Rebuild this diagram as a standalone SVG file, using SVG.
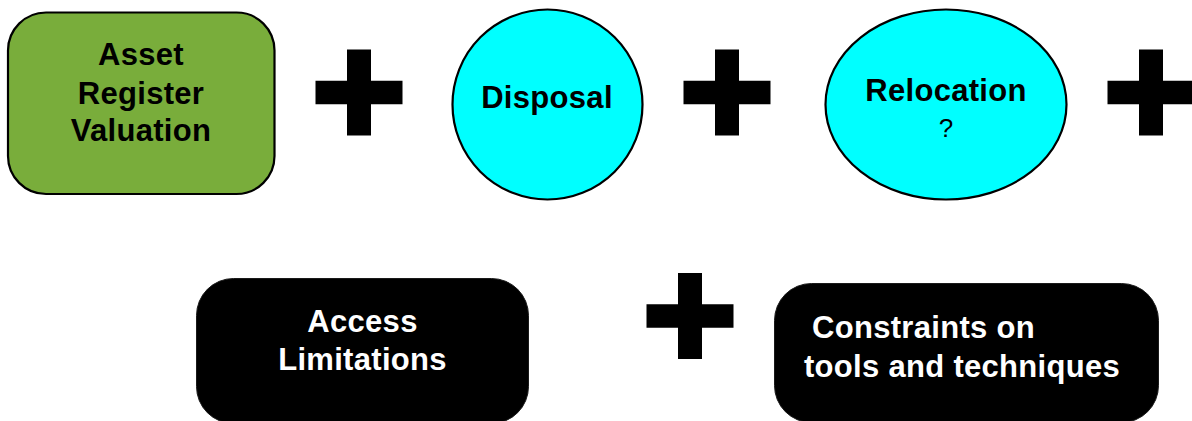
<svg xmlns="http://www.w3.org/2000/svg" xmlns:xlink="http://www.w3.org/1999/xlink" width="1192" height="421" viewBox="0 0 1192 421">
  <style>
    .label { font-family: "Liberation Sans", Arial, Helvetica, sans-serif; font-size: 31px; font-weight: bold; letter-spacing: 0.3px; }
    .dark { fill: #000000; }
    .light { fill: #ffffff; }
    .mid { text-anchor: middle; }
    .outline { stroke: #000000; stroke-width: 2.2; }
    .cyan { fill: #00ffff; }
    .block { fill: #000000; stroke: #1a1a1a; stroke-width: 1; }
  </style>
  <defs>
    <!-- plus sign centred on the origin -->
    <path id="plus" d="M -12 -43 H 12 V -11.75 H 43.5 V 11.75 H 12 V 43 H -12 V 11.75 H -43.5 V -11.75 H -12 Z" fill="#000000"/>
  </defs>

  <rect width="1192" height="421" fill="#ffffff"/>

  <g id="asset-register-valuation">
    <rect x="8" y="12.5" width="266.5" height="181.5" rx="38" ry="38" fill="#79ad3b" class="outline"/>
    <text class="label dark mid" x="141" y="65">Asset</text>
    <text class="label dark mid" x="141" y="103.5">Register</text>
    <text class="label dark mid" x="141" y="141">Valuation</text>
  </g>

  <g id="disposal">
    <ellipse cx="547.5" cy="104.5" rx="95" ry="95" class="cyan outline"/>
    <text class="label dark mid" x="547" y="108">Disposal</text>
  </g>

  <g id="relocation">
    <ellipse cx="946" cy="104.5" rx="120.5" ry="95" class="cyan outline"/>
    <text class="label dark mid" x="946" y="101">Relocation</text>
    <text x="946" y="137" class="mid" font-family="Liberation Sans, Arial, sans-serif" font-size="26" fill="#000000">?</text>
  </g>

  <g id="access-limitations">
    <rect x="196.5" y="278.5" width="332" height="145" rx="37" ry="37" class="block"/>
    <text class="label light mid" x="362.5" y="332">Access</text>
    <text class="label light mid" x="362.5" y="370">Limitations</text>
  </g>

  <g id="constraints-on-tools">
    <rect x="774.5" y="283.5" width="384" height="139" rx="37" ry="37" class="block"/>
    <text class="label light" x="812" y="338">Constraints on</text>
    <text class="label light" x="804" y="377">tools and techniques</text>
  </g>

  <g id="connectors">
    <use xlink:href="#plus" href="#plus" transform="translate(359 92.5)"/>
    <use xlink:href="#plus" href="#plus" transform="translate(727 92.5)"/>
    <use xlink:href="#plus" href="#plus" transform="translate(1151 92.5)"/>
    <use xlink:href="#plus" href="#plus" transform="translate(690 316)"/>
  </g>
</svg>
